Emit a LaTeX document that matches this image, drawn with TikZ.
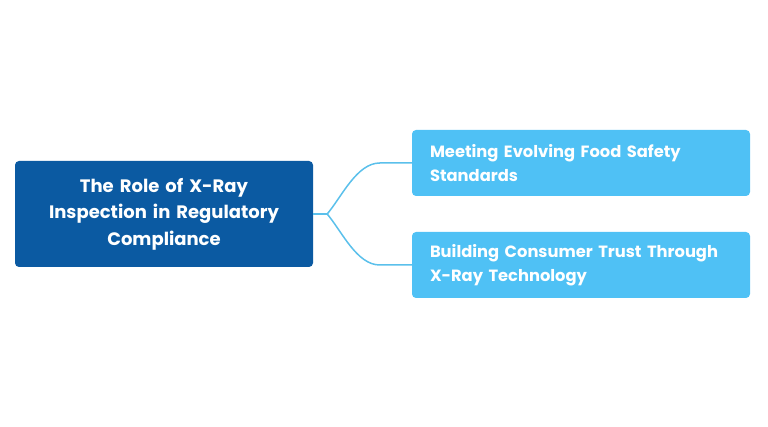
\documentclass[tikz,border=0pt]{standalone}
\usepackage{fontspec}
\setmainfont{Poppins}
\usepackage{tikz}
\usetikzlibrary{arrows,positioning}
\definecolor{rootblue}{HTML}{0B5AA2}
\definecolor{leafblue}{HTML}{4FC1F5}
\definecolor{linkblue}{HTML}{5BC0EB}
\tikzset{
    topic/.style={
           rectangle,
           rounded corners=4pt,
           draw=none,
           inner sep=0pt,
           text=white,
           font=\bfseries,
           },
}

\begin{document}
\begin{tikzpicture}[
  x=1pt,y=1pt,
  root/.style={fill=rootblue,minimum width=298pt,minimum height=106pt,
    text width=280pt,align=center,font=\bfseries\fontsize{18}{26.5}\selectfont},
  leaf/.style={fill=leafblue,minimum width=338pt,minimum height=66pt,
    text width=302pt,align=left,font=\bfseries\fontsize{16.3}{23.5}\selectfont},
  link/.style={draw=linkblue,line width=1.5pt}]
\useasboundingbox (0,0) rectangle (768,-427);
\node[topic,root](role) at (164,-214){The Role of X-Ray\\Inspection in Regulatory\\Compliance};
\node[topic,leaf](standards) at (581,-163){Meeting Evolving Food Safety\\Standards};
\node[topic,leaf](trust) at (581,-265){Building Consumer Trust Through\\X-Ray Technology};

\draw[link] (role.east) -- ++(14,0) coordinate (fork);
\draw[link] (standards.west) -- ++(-32,0) to[out=180,in=50,looseness=0.8] (fork);
\draw[link] (trust.west) -- ++(-32,0) to[out=180,in=-50,looseness=0.8] (fork);
\end{tikzpicture}
\end{document}
